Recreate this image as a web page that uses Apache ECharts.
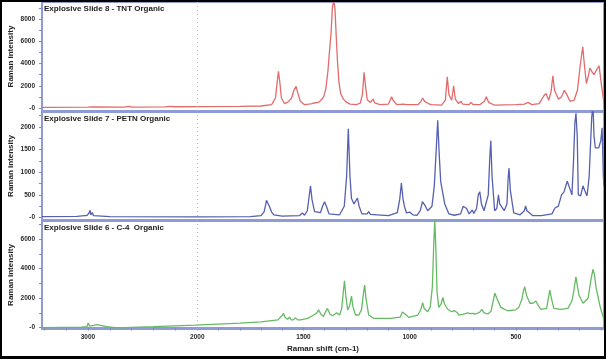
<!DOCTYPE html>
<html><head><meta charset="utf-8">
<script src="https://cdn.jsdelivr.net/npm/echarts@6/dist/echarts.min.js"></script>
<style>
html,body{margin:0;padding:0;background:#fff;}
#wrap{position:relative;width:606px;height:359px;}
#chart{position:absolute;left:0;top:0;width:606px;height:359px;}
#frame{position:absolute;left:0;top:0;width:606px;height:359px;box-sizing:border-box;border:2px solid #000;border-bottom-width:3px;pointer-events:none;}
</style></head>
<body><div id="wrap"><div id="chart"></div><div id="frame"></div></div>
<script>
// ---- data: [Raman shift (cm-1), Raman intensity] ----
const panelTitles = ['Explosive Slide 8 - TNT Organic', 'Explosive Slide 7 - PETN Organic', 'Explosive Slide 6 - C-4  Organic'];
const xTickLabels = [500, 1000, 1500, 2000, 3000];
const yLabels1 = [0, 2000, 4000, 6000, 8000];
const yLabels2 = [0, 500, 1000, 1500, 2000];
const yLabels3 = [0, 2000, 4000, 6000];

const tntSpectrum = [[3420,60],[3000,70],[2960,90],[2945,220],[2930,90],[2700,80],[2690,150],[2670,80],[2620,140],[2600,80],[2300,100],[2250,140],[2200,110],[2000,120],[1800,150],[1700,180],[1650,300],[1632,900],[1624,2300],[1618,3300],[1612,2400],[1604,900],[1590,400],[1572,550],[1556,900],[1545,1600],[1535,1950],[1526,1300],[1515,600],[1495,300],[1475,350],[1467,500],[1460,400],[1450,450],[1443,550],[1430,500],[1420,650],[1405,1000],[1395,1700],[1385,3300],[1378,5000],[1370,6800],[1364,9000],[1358,9700],[1352,9000],[1346,6500],[1340,4200],[1333,2300],[1325,1300],[1312,800],[1300,550],[1280,350],[1250,300],[1232,450],[1222,1300],[1215,3200],[1208,2000],[1200,750],[1185,500],[1172,800],[1165,450],[1140,300],[1100,350],[1092,700],[1085,1000],[1078,700],[1060,300],[1030,350],[1024,450],[1015,300],[960,300],[947,600],[939,900],[930,600],[912,400],[906,500],[898,300],[850,250],[832,700],[823,2800],[815,1200],[802,700],[793,2000],[785,800],[770,400],[759,600],[750,350],[720,300],[712,500],[700,300],[670,300],[648,600],[639,1000],[628,500],[600,250],[500,300],[460,350],[443,500],[425,300],[390,400],[368,1100],[358,1300],[345,700],[334,1500],[326,2900],[318,1600],[300,800],[285,1000],[272,1600],[260,1200],[245,600],[226,700],[210,1600],[196,4000],[185,5500],[178,4000],[168,2200],[160,2800],[151,3600],[140,3200],[132,3000],[118,3500],[108,3800],[100,2500],[85,400]];

const petnSpectrum = [[3420,20],[3100,25],[3030,40],[3020,80],[3010,40],[2990,100],[2980,160],[2975,60],[2960,110],[2950,40],[2800,20],[2000,15],[1750,20],[1700,40],[1685,130],[1674,380],[1666,300],[1660,240],[1650,120],[1640,60],[1600,30],[1520,40],[1505,100],[1495,50],[1482,150],[1473,480],[1467,700],[1460,400],[1448,130],[1420,110],[1410,250],[1401,350],[1392,250],[1380,80],[1330,60],[1308,250],[1297,900],[1289,1960],[1281,900],[1274,420],[1268,390],[1262,300],[1254,260],[1246,430],[1238,250],[1225,80],[1200,80],[1193,130],[1185,70],[1100,40],[1058,110],[1047,400],[1039,760],[1032,430],[1025,250],[1015,100],[1000,120],[985,60],[965,50],[950,150],[940,350],[934,370],[926,250],[915,150],[895,250],[884,700],[875,1500],[868,2150],[861,1400],[854,800],[845,560],[835,300],[815,80],[790,50],[760,80],[748,250],[740,276],[732,200],[720,80],[705,166],[698,90],[685,200],[677,500],[670,570],[662,300],[650,150],[630,500],[623,1300],[618,1700],[612,900],[600,150],[590,200],[582,500],[576,300],[555,150],[542,300],[536,900],[532,1090],[526,600],[510,100],[480,60],[460,150],[454,254],[448,150],[420,40],[380,40],[330,80],[316,210],[300,250],[285,500],[274,560],[265,600],[258,800],[250,810],[243,600],[236,500],[229,1200],[222,2100],[217,2300],[211,1800],[206,500],[195,480],[184,700],[176,600],[165,475],[155,900],[143,2200],[137,2500],[132,1800],[126,1540],[110,1540],[100,1700],[94,1980],[88,900],[85,700]];

const c4Spectrum = [[3420,0],[3060,20],[3010,60],[2997,300],[2985,100],[2970,30],[2950,150],[2933,250],[2915,200],[2888,150],[2824,60],[2732,-30],[2400,60],[2018,170],[1800,300],[1700,380],[1620,520],[1602,800],[1594,960],[1587,700],[1575,560],[1566,700],[1557,520],[1547,520],[1538,670],[1528,520],[1514,520],[1480,620],[1458,800],[1440,950],[1429,1200],[1418,900],[1406,750],[1395,1100],[1387,1300],[1375,900],[1363,800],[1344,1000],[1330,850],[1320,1300],[1312,2500],[1307,3180],[1301,2200],[1292,1200],[1282,1500],[1274,2140],[1267,1400],[1255,850],[1240,850],[1227,1200],[1217,2400],[1212,2890],[1206,2000],[1193,850],[1170,625],[1090,625],[1045,700],[1034,1050],[1028,1140],[1020,900],[1005,690],[962,850],[948,1200],[939,1690],[932,1300],[915,1075],[903,1400],[893,2800],[887,5500],[882,7300],[877,5500],[871,2400],[863,1370],[852,1600],[844,2050],[836,1600],[821,1240],[802,1075],[790,1150],[783,1240],[775,1000],[769,850],[750,900],[726,1000],[715,950],[703,960],[689,920],[670,1050],[660,1240],[650,1000],[632,920],[617,1100],[607,1800],[599,2330],[590,2000],[585,1920],[571,1370],[555,1250],[538,1140],[500,1200],[486,1370],[472,1900],[464,2500],[458,2770],[450,2200],[434,1650],[420,1650],[406,1800],[395,1500],[382,1240],[355,1300],[347,2000],[340,2550],[333,2000],[321,1300],[288,1240],[255,1300],[236,1800],[226,2600],[217,3450],[210,2800],[203,2210],[184,1650],[160,1990],[147,3200],[137,3960],[130,3600],[123,2770],[104,1460],[95,1400],[85,510]];

// ---- axis scale: shift axis is compressed above 2000 cm-1 ----
const BREAK = 2000, UPPER = 0.515;
function u(s){ return s <= BREAK ? s : BREAK + (s - BREAK) * UPPER; }
function shiftOf(v){ return v <= BREAK ? v : BREAK + (v - BREAK) / UPPER; }
const xMinShift = 85, xMaxShift = 3420;
const xTicks = [];
for (let s = 100; s <= 2000; s += 100) xTicks.push(s);
for (let s = 2200; s <= 3400; s += 200) xTicks.push(s);

const axisColor = '#8f9bd6';
const lbl = {fontFamily:'Liberation Sans', fontWeight:'bold', color:'#2a2a2a'};

const grids = [
  {left:42, right:2, top:2, height:109},
  {left:42, right:2, top:112, height:108},
  {left:42, right:2, top:221, height:108}
].map(g => Object.assign(g, {show:true, borderColor:axisColor, borderWidth:2, backgroundColor:'#fff', containLabel:false, outerBoundsMode:'none'}));

function xAxis(i){
  const last = i === 2;
  return {
    type:'value', gridIndex:i, inverse:true, min:u(xMinShift), max:u(xMaxShift),
    axisLine:{show:last, lineStyle:{color:axisColor, width:2}},
    axisTick:{show:last, length:3, customValues:xTicks.map(u), lineStyle:{color:'#7f8cc8'}},
    axisLabel:{show:last, customValues:xTickLabels.map(u), formatter:v => String(Math.round(shiftOf(v))), margin:5, fontSize:6.5, ...lbl},
    splitLine:{show:false},
    name: last ? 'Raman shift (cm-1)' : '', nameLocation:'middle', nameGap:16, nameMoveOverlap:false,
    nameTextStyle:{fontSize:8, ...lbl, color:'#222'}
  };
}
function yAxis(i, min, max, labels, tickStep){
  const ticks = [];
  for (let v = 0; v <= max; v += tickStep) ticks.push(v);
  return {
    type:'value', gridIndex:i, min:min, max:max,
    axisLine:{show:true, lineStyle:{color:axisColor, width:2}},
    axisTick:{show:true, length:3, customValues:ticks, lineStyle:{color:'#7f8cc8'}},
    axisLabel:{customValues:labels, formatter:v => v === 0 ? '-0' : String(v), margin:7, fontSize:6.5, ...lbl},
    splitLine:{show:false},
    name:'Raman intensity', nameLocation:'middle', nameGap:27, nameMoveOverlap:false,
    nameTextStyle:{fontSize:8, ...lbl, color:'#222'}
  };
}
function series(i, spectrum, color){
  return {
    type:'line', xAxisIndex:i, yAxisIndex:i, showSymbol:false, symbol:'none',
    data: spectrum.map(p => [u(p[0]), p[1]]),
    lineStyle:{color:color, width:1.3}, clip:true, animation:false,
    markLine:{silent:true, symbol:'none', label:{show:false},
      lineStyle:{color:'#b4b9cc', type:[1,3], width:1},
      data:[{xAxis:u(BREAK)}]}
  };
}

const chart = echarts.init(document.getElementById('chart'), null, {renderer:'canvas'});
chart.setOption({
  animation:false,
  backgroundColor:'#fff',
  title: panelTitles.map((t, i) => ({
    text:t, left:44, top:[5, 115, 224][i], padding:0,
    textStyle:{fontSize:8, fontFamily:'Liberation Sans', fontWeight:'bold', color:'#222'}
  })),
  grid: grids,
  xAxis: [xAxis(0), xAxis(1), xAxis(2)],
  yAxis: [
    yAxis(0, -270, 9530, yLabels1, 1000),
    yAxis(1, -55, 2331, yLabels2, 250),
    yAxis(2, -100, 7240, yLabels3, 1000)
  ],
  series: [
    series(0, tntSpectrum, '#e26b6b'),
    series(1, petnSpectrum, '#5660b0'),
    series(2, c4Spectrum, '#66ba63')
  ]
});
</script></body></html>
